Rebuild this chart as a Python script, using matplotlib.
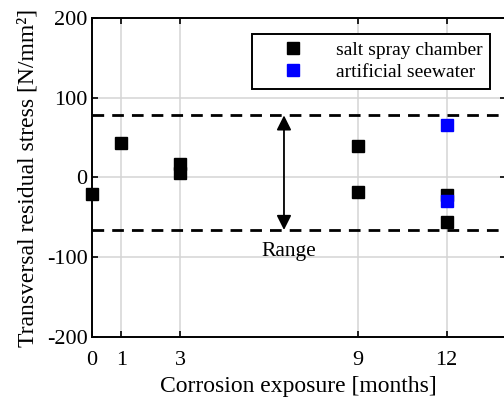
"""Residual stress vs corrosion exposure, scatter with range band."""

import numpy as np
import matplotlib
matplotlib.use("Agg")
import matplotlib.pyplot as plt

# Data.
salt_months = [0, 1, 3, 3, 9, 9, 12, 12]
salt_stress = [-21, 43, 17, 5, 40, -18, -22, -56]
sea_months = [12, 12]
sea_stress = [66, -30]
range_upper = 78
range_lower = -66
x_ticks = [0, 1, 3, 9, 12]
y_ticks = [-200, -100, 0, 100, 200]

plt.rcParams["font.family"] = ["Liberation Serif", "DejaVu Serif"]
plt.rcParams["axes.unicode_minus"] = False

fig = plt.figure(figsize=(5.04, 3.97), dpi=100)
ax = fig.add_axes([0.182, 0.152, 0.8216, 0.802])

# Grid first so everything sits on top.
ax.grid(True, color="#d4d4d4", linewidth=1.1)
ax.set_axisbelow(True)

# Range lines and arrow.
for level in (range_upper, range_lower):
    ax.axhline(level, color="black", linestyle=(0, (4.2, 2.9)), linewidth=2.0, zorder=2)
ax.annotate(
    "",
    xy=(6.5, range_upper),
    xytext=(6.5, range_lower),
    arrowprops=dict(arrowstyle="<|-|>", color="black", lw=1.3,
                    mutation_scale=22, shrinkA=0, shrinkB=0),
)
ax.text(6.65, -93, "Range", ha="center", va="center", fontsize=15.5)

# Measurements.
ax.plot(salt_months, salt_stress, "s", color="black", markersize=8.8,
        linestyle="none", label="salt spray chamber", zorder=3, clip_on=False)
ax.plot(sea_months, sea_stress, "s", color="blue", markersize=8.8,
        linestyle="none", label="artificial seewater", zorder=4, clip_on=False)

ax.set_xlim(0, 14)
ax.set_ylim(-200, 200)
ax.set_xticks(x_ticks)
ax.set_yticks(y_ticks)
ax.tick_params(direction="in", top=True, right=True, labelsize=16,
               length=4, width=1.2)
ax.tick_params(axis="x", pad=10)
ax.tick_params(axis="y", pad=3)
for spine in ax.spines.values():
    spine.set_linewidth(1.4)

ax.set_xlabel("Corrosion exposure [months]", fontsize=17, labelpad=5)
ax.set_ylabel("Transversal residual stress [N/mm²]", fontsize=17, labelpad=6)

leg = ax.legend(loc="upper right", bbox_to_anchor=(0.962, 0.951), fontsize=14,
                fancybox=False, framealpha=1, edgecolor="black",
                handlelength=3.4, handletextpad=0.5, borderpad=0.4,
                labelspacing=0.2, borderaxespad=0)
leg.get_frame().set_linewidth(1.4)

fig.savefig("out.png", dpi=100)
